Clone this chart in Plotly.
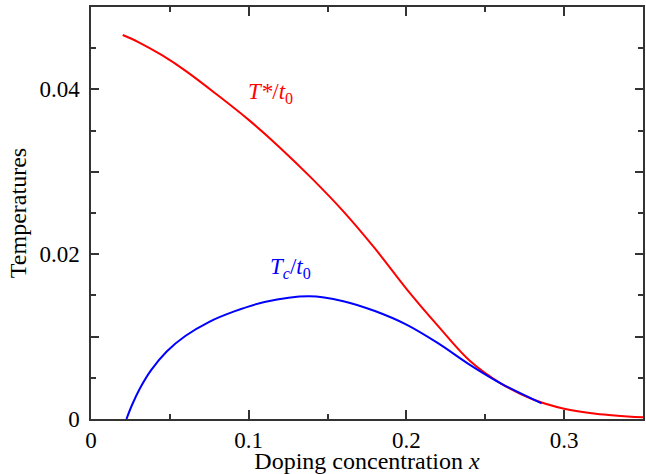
import plotly.graph_objects as go

# T*/t0 (red)
tstar_x = [0.0201, 0.03, 0.045, 0.06, 0.08, 0.10, 0.12, 0.14, 0.16, 0.18, 0.20,
           0.22, 0.24, 0.26, 0.28, 0.30, 0.32, 0.35]
tstar_y = [0.04660, 0.04575, 0.04415, 0.04225, 0.03935, 0.03630, 0.03290, 0.02920, 0.02520, 0.02070, 0.01580,
           0.01130, 0.00710, 0.00430, 0.00240, 0.00125, 0.00065, 0.00020]

# Tc/t0 (blue)
tc_x = [0.0225, 0.026, 0.031, 0.038, 0.048, 0.060, 0.075, 0.090, 0.110, 0.1385, 0.160, 0.180, 0.200,
        0.220, 0.240, 0.260, 0.2857]
tc_y = [0.0000, 0.0017, 0.0037, 0.0059, 0.0082, 0.0101, 0.0118, 0.0130, 0.0142, 0.0149, 0.0143, 0.0131, 0.01145,
        0.0092, 0.0066, 0.0043, 0.0019]

x_tickvals = [0, 0.1, 0.2, 0.3]
x_ticktext = ["0", "0.1", "0.2", "0.3"]
y_tickvals = [0, 0.01, 0.02, 0.03, 0.04, 0.05]
y_ticktext = ["0", "", "0.02", "", "0.04", ""]

FONT = "Liberation Serif, Times New Roman, serif"
AX = "#333333"

fig = go.Figure()
fig.add_trace(go.Scatter(x=tstar_x, y=tstar_y, mode="lines",
                         line=dict(color="#ff0000", width=2, shape="spline", smoothing=1.0),
                         showlegend=False))
fig.add_trace(go.Scatter(x=tc_x, y=tc_y, mode="lines",
                         line=dict(color="#0000ff", width=2, shape="spline", smoothing=1.0),
                         showlegend=False))

fig.add_annotation(x=0.1135, y=0.0396, text="<i>T*</i>/<i>t</i><sub>0</sub>",
                   showarrow=False, font=dict(family=FONT, size=23, color="#ff0000"))
fig.add_annotation(x=0.1265, y=0.0183, text="<i>T<sub>c</sub></i>/<i>t</i><sub>0</sub>",
                   showarrow=False, font=dict(family=FONT, size=23, color="#0000ff"))

fig.update_xaxes(range=[0, 0.35], tickvals=x_tickvals, ticktext=x_ticktext,
                 ticks="inside", ticklen=9, tickwidth=1.5, tickcolor=AX,
                 minor=dict(dtick=0.05, ticks="inside", ticklen=5, tickwidth=1.5, tickcolor=AX),
                 showline=True, linecolor=AX, linewidth=1.5, mirror="ticks",
                 showgrid=False, zeroline=False,
                 tickfont=dict(family=FONT, size=23, color="black"),
                 title=dict(text="Doping concentration <i>x</i>", standoff=3,
                            font=dict(family=FONT, size=24, color="black")))
fig.update_yaxes(range=[0, 0.05], tickvals=y_tickvals, ticktext=y_ticktext,
                 ticks="inside", ticklen=8, tickwidth=1.5, tickcolor=AX,
                 minor=dict(dtick=0.005, ticks="inside", ticklen=5, tickwidth=1.5, tickcolor=AX),
                 showline=True, linecolor=AX, linewidth=1.5, mirror="ticks",
                 showgrid=False, zeroline=False, ticklabelstandoff=5,
                 tickfont=dict(family=FONT, size=23, color="black"),
                 title=dict(text="Temperatures", standoff=6,
                            font=dict(family=FONT, size=24, color="black")))

fig.update_layout(width=646, height=474,
                  margin=dict(l=91, r=1, t=7, b=55),
                  paper_bgcolor="white", plot_bgcolor="white")

fig.write_html("out.html", config={"displayModeBar": False},
               post_script="document.body.style.margin='0';document.body.style.overflow='hidden';")
